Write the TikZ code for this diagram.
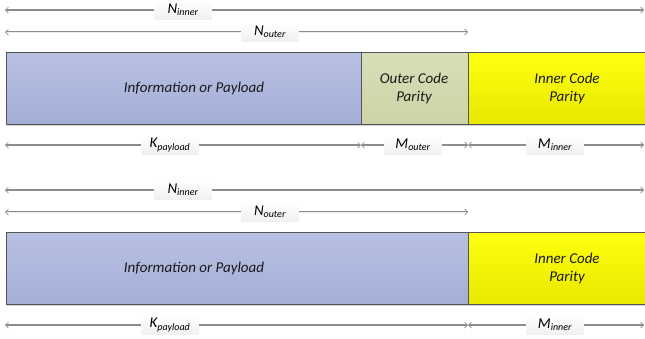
\documentclass[tikz,border=0pt]{standalone}
\usepackage{fontspec}
\setmainfont{Carlito}
\usetikzlibrary{arrows.meta,shadows}
\definecolor{linegray}{HTML}{8C8C8C}
\definecolor{boxedge}{HTML}{555555}
\definecolor{pTop}{HTML}{B8C0E2}
\definecolor{pBot}{HTML}{A4AFD8}
\definecolor{gTop}{HTML}{D8DEB8}
\definecolor{gBot}{HTML}{CCD4A6}
\definecolor{yTop}{HTML}{FFFF10}
\definecolor{yBot}{HTML}{E8E800}
\newcommand{\dimtxt}[2]{\textit{#1\textsubscript{\fontsize{10}{10}\selectfont #2}}}
\tikzset{
  dim/.style={linegray, line width=1.1pt, {Straight Barb[length=3pt,width=6pt,line width=0.7pt]}-{Straight Barb[length=3pt,width=6pt,line width=0.7pt]}},
  dimdouble/.style={dim, double=white!85!gray, double distance=0.5pt, line width=0.5pt},
  lbl/.style={top color=white, bottom color=gray!12, inner sep=0pt, minimum width=57pt, minimum height=19pt, font=\fontsize{15}{15}\selectfont, text=black},
  seg/.style={draw=boxedge, line width=0.8pt, inner sep=0pt, anchor=north west, minimum height=72pt, drop shadow={shadow xshift=1pt, shadow yshift=-1.5pt, fill=gray!60, opacity=0.6}},
  segtxt/.style={align=center, inner sep=0pt, font=\itshape\fontsize{15}{18}\selectfont, text=black!90},
}
\begin{document}
\begin{tikzpicture}[x=1pt,y=-1pt]
\useasboundingbox (0,0) rectangle (645,338);
% ---------- top diagram ----------
\coordinate (a1L) at (5,10); \coordinate (a1R) at (644,10);
\coordinate (b1L) at (5,32); \coordinate (b1R) at (468,32);
\draw[dim] (a1L) -- (a1R);
\node[lbl] (ni1) at (183,10) {\dimtxt{N}{inner}};
\draw[dimdouble] (b1L) -- (b1R);
\node[lbl] (no1) at (270,32) {\dimtxt{N}{outer}};
\node[seg, top color=pTop, bottom color=pBot, minimum width=355pt] (info1) at (6,52) {};
\node[seg, top color=gTop, bottom color=gBot, minimum width=107pt] (outer1) at (361,52) {};
\node[seg, top color=yTop, bottom color=yBot, minimum width=177pt] (inner1) at (468,52) {};
\node[segtxt] (info1t) at (194,88) {Information or Payload};
\node[segtxt] (outer1t) at (414,88) {Outer Code\\Parity};
\node[segtxt] (inner1t) at (567,88) {Inner Code\\Parity};
\coordinate (k1L) at (5,145); \coordinate (k1M) at (361,145); \coordinate (k1N) at (468,145); \coordinate (k1R) at (644,145);
\draw[dim] (k1L) -- (k1M);
\draw[dim] (k1M) -- (k1N);
\draw[dim] (k1N) -- (k1R);
\node[lbl] (kp1) at (170,145) {\dimtxt{K}{payload}};
\node[lbl] (mo1) at (413,145) {\dimtxt{M}{outer}};
\node[lbl] (mi1) at (555,145) {\dimtxt{M}{inner}};
% ---------- bottom diagram ----------
\coordinate (a2L) at (5,190); \coordinate (a2R) at (644,190);
\coordinate (b2L) at (5,212); \coordinate (b2R) at (468,212);
\draw[dim] (a2L) -- (a2R);
\node[lbl] (ni2) at (183,190) {\dimtxt{N}{inner}};
\draw[dimdouble] (b2L) -- (b2R);
\node[lbl] (no2) at (270,212) {\dimtxt{N}{outer}};
\node[seg, top color=pTop, bottom color=pBot, minimum width=462pt] (info2) at (6,232) {};
\node[seg, top color=yTop, bottom color=yBot, minimum width=177pt] (inner2) at (468,232) {};
\node[segtxt] (info2t) at (194,268) {Information or Payload};
\node[segtxt] (inner2t) at (567,268) {Inner Code\\Parity};
\coordinate (k2L) at (5,325); \coordinate (k2N) at (468,325); \coordinate (k2R) at (644,325);
\draw[dim] (k2L) -- (k2N);
\draw[dim] (k2N) -- (k2R);
\node[lbl] (kp2) at (170,325) {\dimtxt{K}{payload}};
\node[lbl] (mi2) at (555,325) {\dimtxt{M}{inner}};
\end{tikzpicture}
\end{document}
